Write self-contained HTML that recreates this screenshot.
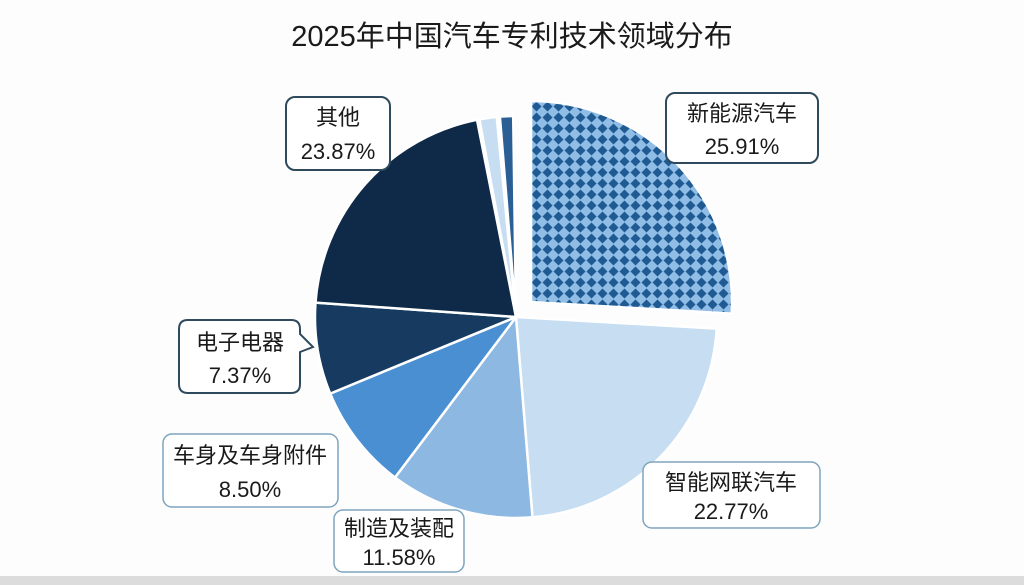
<!DOCTYPE html>
<html><head><meta charset="utf-8"><style>
html,body{margin:0;padding:0;background:#fff;}
svg{display:block;}
text{font-family:"Liberation Sans","Noto Sans CJK SC",sans-serif;fill:#1a1a1a;}
</style></head><body>
<svg width="1024" height="585" viewBox="0 0 1024 585" xmlns="http://www.w3.org/2000/svg">
<defs>
<pattern id="dia" width="11" height="11" patternUnits="userSpaceOnUse" x="531" y="101">
<rect width="11" height="11" fill="#8fbde6"/>
<polygon points="5.5,0.5 10.5,5.5 5.5,10.5 0.5,5.5" fill="#1f5a92"/>
</pattern>
</defs>
<rect x="0" y="0" width="1024" height="585" fill="#fdfdfd"/>
<rect x="0" y="576" width="1024" height="9" fill="#dcdcdc"/>
<text x="512" y="46" text-anchor="middle" font-size="29">2025年中国汽车专利技术领域分布</text>
<g stroke="#fff" stroke-width="2.5">
<path d="M531,302 L531,101 A201,201 0 0 1 731.7,313.6 Z" fill="url(#dia)"/>
<path d="M516,317 L716.7,328.6 A201,201 0 0 1 532.5,517.3 Z" fill="#c6ddf2"/>
<path d="M516,317 L532.5,517.3 A201,201 0 0 1 395,477.5 Z" fill="#8db8e2"/>
<path d="M516,317 L395,477.5 A201,201 0 0 1 330.2,393.6 Z" fill="#4a8fd2"/>
<path d="M516,317 L330.2,393.6 A201,201 0 0 1 315.5,302.6 Z" fill="#163a60"/>
<path d="M516,317 L315.5,302.6 A201,201 0 0 1 477,119.8 Z" fill="#0f2a48"/>
<path d="M516,317 L479.4,119.4 A201,201 0 0 1 496.7,116.9 Z" fill="#c6ddf2"/>
<path d="M516,317 L499.9,116.6 A201,201 0 0 1 513.2,116 Z" fill="#2a5f95"/>
</g>
<g fill="#fff" stroke="#2f4a5c" stroke-width="2">
<rect x="666" y="93" width="152" height="70" rx="9"/>
<rect x="286" y="97" width="104" height="73" rx="9"/>
<path d="M188,320 H291 Q300,320 300,329 V334 L313,347 L300,352 V384 Q300,393 291,393 H188 Q179,393 179,384 V329 Q179,320 188,320 Z"/>
</g>
<g fill="#fff" stroke="#7ea4be" stroke-width="1.5">
<rect x="163" y="434" width="175" height="73" rx="9"/>
<rect x="334" y="510" width="130" height="62" rx="9"/>
<rect x="643" y="462" width="177" height="66" rx="9"/>
</g>
<g font-size="22" text-anchor="middle">
<text x="742" y="121">新能源汽车</text><text x="742" y="154">25.91%</text>
<text x="338" y="125">其他</text><text x="338" y="159">23.87%</text>
<text x="240" y="350">电子电器</text><text x="240" y="383">7.37%</text>
<text x="250" y="463">车身及车身附件</text><text x="250" y="497">8.50%</text>
<text x="399" y="536">制造及装配</text><text x="399" y="565">11.58%</text>
<text x="731" y="490">智能网联汽车</text><text x="731" y="519">22.77%</text>
</g>
</svg>
</body></html>
